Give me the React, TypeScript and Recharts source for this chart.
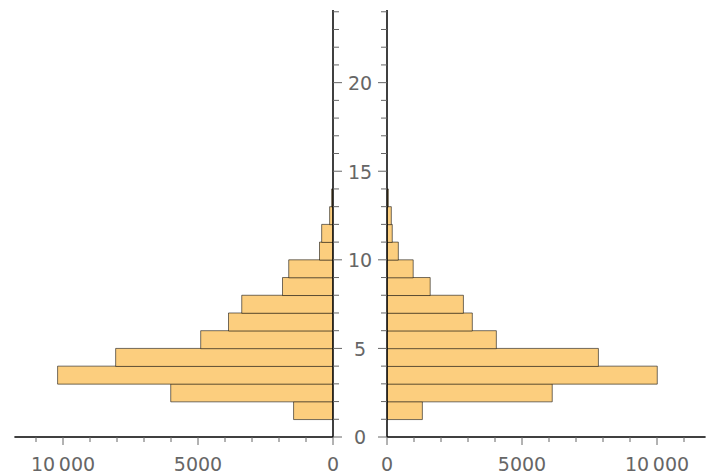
import { Bar, BarChart, XAxis, YAxis } from "recharts";

// histogram bins: each bar spans [start, start + 1]
const binStarts = [1, 2, 3, 4, 5, 6, 7, 8, 9, 10, 11, 12, 13];
const leftCounts = [1460, 6010, 10200, 8050, 4900, 3870, 3380, 1870, 1640, 500, 420, 125, 50];
const rightCounts = [1310, 6120, 10010, 7830, 4050, 3160, 2830, 1600, 970, 420, 195, 160, 50];

const xTicks = [0, 1000, 2000, 3000, 4000, 5000, 6000, 7000, 8000, 9000, 10000, 11000];
const xLabels = [0, 5000, 10000];
const yTicks = [0, 1, 2, 3, 4, 5, 6, 7, 8, 9, 10, 11, 12, 13, 14, 15, 16, 17, 18, 19, 20, 21, 22, 23, 24];
const yLabels = [0, 5, 10, 15, 20];

const data = binStarts.map((s, i) => ({
  mid: s + 0.5,
  left: leftCounts[i],
  right: rightCounts[i],
}));

const FONT = "DejaVu Sans, Verdana, sans-serif";
const GREY = "#666666";
const FILL = "#fcce7e";
const EDGE = "rgba(0,0,0,0.55)";

function fmt(v: number) {
  if (v >= 10000) {
    const s = String(v);
    return s.slice(0, s.length - 3) + "\u2009" + s.slice(-3);
  }
  return String(v);
}

function XTick(props: any) {
  const { x, y, payload } = props;
  const major = xLabels.includes(payload.value);
  return (
    <g>
      <line x1={x} x2={x} y1={y} y2={y + (major ? 8 : 5)} stroke={GREY} strokeWidth={1} />
      {major && (
        <text x={x} y={y + 34} textAnchor="middle" fill={GREY} fontSize={19} fontFamily={FONT}>
          {fmt(payload.value)}
        </text>
      )}
    </g>
  );
}

function LeftYTick(props: any) {
  const { x, y, payload } = props;
  const major = yLabels.includes(payload.value);
  return (
    <g>
      <line x1={x} x2={x + (major ? 9 : 6)} y1={y} y2={y} stroke={GREY} strokeWidth={1} />
      {major && (
        <text x={x + 27} y={y + 7.3} textAnchor="middle" fill={GREY} fontSize={19} fontFamily={FONT}>
          {payload.value}
        </text>
      )}
    </g>
  );
}

function RightYTick(props: any) {
  const { x, y, payload } = props;
  const major = yLabels.includes(payload.value);
  return (
    <g>
      <line x1={x} x2={x - (major ? 9 : 6)} y1={y} y2={y} stroke={GREY} strokeWidth={1} />
    </g>
  );
}

const axisLine = { stroke: "#000", strokeWidth: 1.5 };

export default function App() {
  return (
    <div style={{ position: "absolute", left: 0, top: 0, width: 720, height: 476, background: "#fff" }}>
      <div style={{ position: "absolute", left: 0, top: 0 }}>
        <BarChart
          width={720}
          height={476}
          data={data}
          layout="vertical"
          barCategoryGap={0}
          margin={{ top: 10, right: 357, bottom: 0, left: 14.4 }}
        >
          <XAxis
            type="number"
            dataKey="left"
            domain={[0, 11800]}
            reversed
            ticks={xTicks}
            interval={0}
            height={39}
            tickSize={0}
            tickMargin={0}
            tickLine={false}
            axisLine={axisLine}
            tick={<XTick />}
            allowDataOverflow
          />
          <YAxis
            type="number"
            dataKey="mid"
            orientation="right"
            domain={[0, 24.1]}
            reversed
            ticks={yTicks}
            interval={0}
            width={30}
            tickSize={0}
            tickMargin={0}
            tickLine={false}
            axisLine={axisLine}
            tick={<LeftYTick />}
            allowDataOverflow
          />
          <Bar dataKey="left" fill={FILL} stroke={EDGE} strokeWidth={1} isAnimationActive={false} />
        </BarChart>
      </div>
      <div style={{ position: "absolute", left: 0, top: 0 }}>
        <BarChart
          width={720}
          height={476}
          data={data}
          layout="vertical"
          barCategoryGap={0}
          margin={{ top: 10, right: 14.4, bottom: 0, left: 357 }}
        >
          <XAxis
            type="number"
            dataKey="right"
            domain={[0, 11800]}
            ticks={xTicks}
            interval={0}
            height={39}
            tickSize={0}
            tickMargin={0}
            tickLine={false}
            axisLine={axisLine}
            tick={<XTick />}
            allowDataOverflow
          />
          <YAxis
            type="number"
            dataKey="mid"
            orientation="left"
            domain={[0, 24.1]}
            reversed
            ticks={yTicks}
            interval={0}
            width={30}
            tickSize={0}
            tickMargin={0}
            tickLine={false}
            axisLine={axisLine}
            tick={<RightYTick />}
            allowDataOverflow
          />
          <Bar dataKey="right" fill={FILL} stroke={EDGE} strokeWidth={1} isAnimationActive={false} />
        </BarChart>
      </div>
    </div>
  );
}
